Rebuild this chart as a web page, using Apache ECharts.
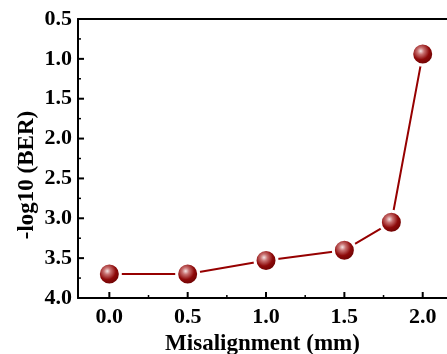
<!DOCTYPE html>
<html><head><meta charset="utf-8">
<script src="https://cdn.jsdelivr.net/npm/echarts@6/dist/echarts.min.js"></script>
<style>html,body{margin:0;padding:0;background:#fff}#c{width:447px;height:354px}</style>
</head><body><div id="c"></div>
<script>
const xValues = [0.0, 0.5, 1.0, 1.5, 1.8, 2.0];
const berValues = [3.70, 3.70, 3.53, 3.40, 3.05, 0.94];
const xTickLabels = [0.0, 0.5, 1.0, 1.5, 2.0];
const xMinorTicks = [0.25, 0.75, 1.25, 1.75];
const yTickLabels = [0.5, 1.0, 1.5, 2.0, 2.5, 3.0, 3.5, 4.0];
const yMinorTicks = [0.75, 1.25, 1.75, 2.25, 2.75, 3.25, 3.75];
const xTitle = 'Misalignment (mm)';
const yTitle = '-log10 (BER)';

const font = 'Liberation Serif';
const xMin = -0.2, xMax = 2.155, yMin = 0.5, yMax = 4.0;
const MAJOR = 6, MINOR = 3;

function tickSeries(points, dir) {
  return {
    type: 'custom', silent: true, z: 1, clip: false,
    encode: {x: 0, y: 1},
    data: points,
    renderItem: function (params, api) {
      const p = api.coord([api.value(0), api.value(1)]);
      const len = api.value(2);
      const x2 = dir === 'y' ? p[0] + len : p[0];
      const y2 = dir === 'y' ? p[1] : p[1] - len;
      return {type: 'line', shape: {x1: p[0], y1: p[1], x2: x2, y2: y2},
              style: {stroke: '#000', lineWidth: len === MAJOR ? 2 : 1.5}};
    }
  };
}
const xTickData = xTickLabels.map(v => [v, yMax, MAJOR]).concat(xMinorTicks.map(v => [v, yMax, MINOR]));
const yTickData = yTickLabels.map(v => [xMin, v, MAJOR]).concat(yMinorTicks.map(v => [xMin, v, MINOR]));

const chart = echarts.init(document.getElementById('c'));
chart.setOption({
  animation: false,
  grid: {left: 78, top: 19, right: 0, bottom: 56, outerBoundsMode: 'none', containLabel: false},
  xAxis: [{
    type: 'value', min: xMin, max: xMax,
    name: xTitle, nameLocation: 'middle', nameGap: 31,
    nameTextStyle: {fontFamily: font, fontWeight: 'bold', fontSize: 23, color: '#000'},
    axisLine: {show: true, onZero: false, lineStyle: {color: '#000', width: 2}},
    axisTick: {show: false},
    axisLabel: {customValues: xTickLabels, margin: 8, fontFamily: font, fontWeight: 'bold', fontSize: 22, color: '#000', formatter: v => v.toFixed(1)},
    splitLine: {show: false}
  }, {
    type: 'value', min: xMin, max: xMax, position: 'top',
    axisLine: {show: true, onZero: false, lineStyle: {color: '#000', width: 2}},
    axisTick: {show: false}, axisLabel: {show: false}, splitLine: {show: false}
  }],
  yAxis: {
    type: 'value', min: yMin, max: yMax, interval: 0.5, inverse: true,
    axisLine: {show: true, onZero: false, lineStyle: {color: '#000', width: 2}},
    axisTick: {show: false},
    axisLabel: {margin: 6, fontFamily: font, fontWeight: 'bold', fontSize: 22, color: '#000', formatter: v => v.toFixed(1)},
    splitLine: {show: false}
  },
  graphic: [{
    type: 'text', x: 27, y: 175, rotation: Math.PI / 2,
    style: {text: yTitle, fontFamily: font, fontWeight: 'bold', fontSize: 23, fill: '#000', align: 'center', verticalAlign: 'middle'}
  }],
  series: [tickSeries(xTickData, 'x'), tickSeries(yTickData, 'y'), {
    type: 'line',
    xAxisIndex: 0,
    data: xValues.map((x, i) => [x, berValues[i]]),
    symbol: 'circle', symbolSize: 22,
    lineStyle: {color: '#960000', width: 2},
    itemStyle: {
      color: {type: 'radial', x: 0.42, y: 0.38, r: 0.62, colorStops: [
        {offset: 0, color: '#f4e4e4'}, {offset: 0.22, color: '#c87070'},
        {offset: 0.55, color: '#8e0a0a'}, {offset: 1, color: '#5e0000'}]},
      borderColor: '#fff', borderWidth: 3
    },
    z: 3
  }]
});
</script></body></html>
